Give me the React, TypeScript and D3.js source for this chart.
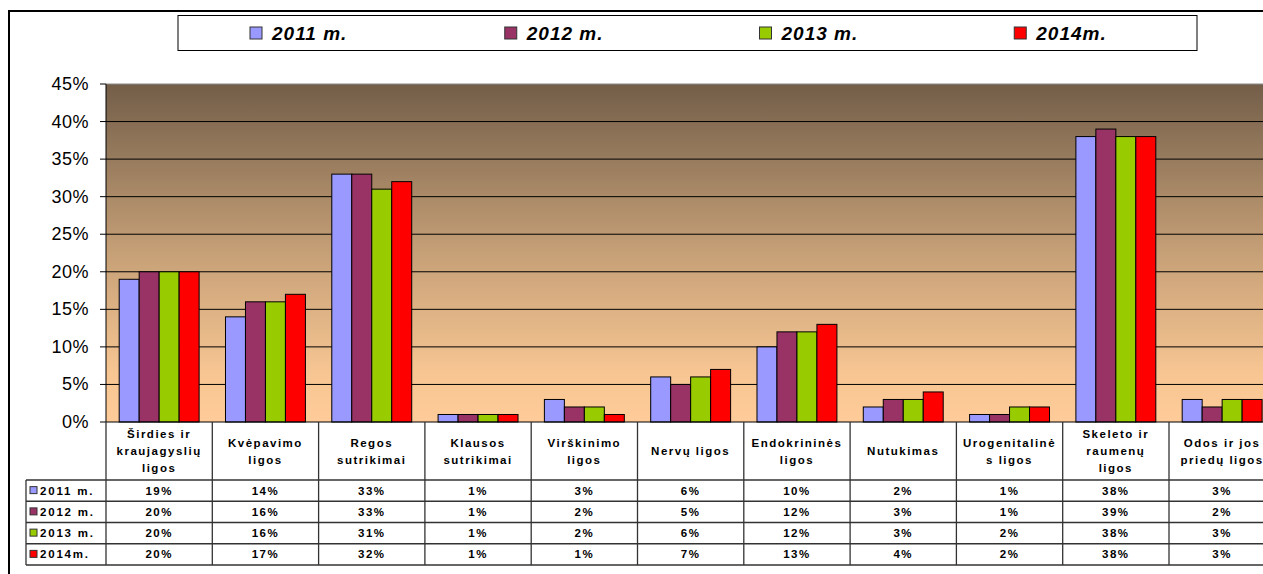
import React, { useEffect, useRef } from 'react';
import * as d3 from 'd3';

const categories = [
  ['Širdies ir', 'kraujagyslių', 'ligos'],
  ['Kvėpavimo', 'ligos'],
  ['Regos', 'sutrikimai'],
  ['Klausos', 'sutrikimai'],
  ['Virškinimo', 'ligos'],
  ['Nervų ligos'],
  ['Endokrininės', 'ligos'],
  ['Nutukimas'],
  ['Urogenitalinė', 's ligos'],
  ['Skeleto ir', 'raumenų', 'ligos'],
  ['Odos ir jos', 'priedų ligos'],
];
const series = ['2011 m.', '2012 m.', '2013 m.', '2014m.'];
const colors = ['#9999ff', '#993366', '#99cc00', '#ff0000'];
const values2011 = [19, 14, 33, 1, 3, 6, 10, 2, 1, 38, 3];
const values2012 = [20, 16, 33, 1, 2, 5, 12, 3, 1, 39, 2];
const values2013 = [20, 16, 31, 1, 2, 6, 12, 3, 2, 38, 3];
const values2014 = [20, 17, 32, 1, 1, 7, 13, 4, 2, 38, 3];
const yTicks = [0, 5, 10, 15, 20, 25, 30, 35, 40, 45];

const FONT = 'Liberation Sans, Arial, sans-serif';

const App = () => {
  const svgRef = useRef<SVGSVGElement | null>(null);

  useEffect(() => {
    const allValues = [values2011, values2012, values2013, values2014];
    const keys = categories.map(c => c.join(' '));

    const svg = d3.select(svgRef.current);
    svg.selectAll('*').remove();

    const width = 1263;
    const height = 574;
    const plotLeft = 106;
    const plotTop = 84;
    const plotBottom = 422;
    const step = 106.3;
    const plotRight = plotLeft + step * categories.length;

    const x = d3.scaleBand().domain(keys).range([plotLeft, plotRight]).padding(0);
    const xs = d3.scaleBand().domain(series).range([0, x.bandwidth()])
      .paddingInner(0).paddingOuter(0.66);
    const y = d3.scaleLinear().domain([0, 45]).range([plotBottom, plotTop]);

    // outer frame
    svg.append('rect')
      .attr('x', 9).attr('y', 11)
      .attr('width', width + 50).attr('height', height + 50)
      .attr('fill', 'white').attr('stroke', 'black').attr('stroke-width', 2);

    // gradient background
    const defs = svg.append('defs');
    const grad = defs.append('linearGradient')
      .attr('id', 'bg').attr('x1', 0).attr('y1', 0).attr('x2', 0).attr('y2', 1);
    grad.append('stop').attr('offset', '0%').attr('stop-color', '#735e49');
    grad.append('stop').attr('offset', '50%').attr('stop-color', '#c6a077');
    grad.append('stop').attr('offset', '85%').attr('stop-color', '#f6c592');
    grad.append('stop').attr('offset', '100%').attr('stop-color', '#ffcc99');

    svg.append('rect')
      .attr('x', plotLeft).attr('y', plotTop)
      .attr('width', plotRight - plotLeft).attr('height', plotBottom - plotTop)
      .attr('fill', 'url(#bg)');

    // grid lines
    svg.append('g').selectAll('line')
      .data(yTicks.filter(d => d > 0))
      .enter().append('line')
      .attr('x1', plotLeft).attr('x2', plotRight)
      .attr('y1', d => y(d)).attr('y2', d => y(d))
      .attr('stroke', d => (d === 45 ? '#8a8a8a' : 'black')).attr('stroke-width', 1);

    // bars
    allValues.forEach((vals, si) => {
      svg.append('g').selectAll('rect')
        .data(vals)
        .enter().append('rect')
        .attr('x', (d, i) => (x(keys[i]) as number) + (xs(series[si]) as number))
        .attr('y', d => y(d))
        .attr('width', xs.bandwidth())
        .attr('height', d => plotBottom - y(d))
        .attr('fill', colors[si])
        .attr('stroke', 'black').attr('stroke-width', 1);
    });

    // y axis
    svg.append('line')
      .attr('x1', plotLeft).attr('x2', plotLeft)
      .attr('y1', plotTop).attr('y2', plotBottom)
      .attr('stroke', 'black');
    svg.append('g').selectAll('line')
      .data(yTicks).enter().append('line')
      .attr('x1', plotLeft - 6).attr('x2', plotLeft)
      .attr('y1', d => y(d)).attr('y2', d => y(d))
      .attr('stroke', 'black');
    svg.append('g').selectAll('text')
      .data(yTicks).enter().append('text')
      .attr('x', 89).attr('y', d => y(d) + 6)
      .attr('text-anchor', 'end')
      .attr('font-family', FONT).attr('font-size', 18)
      .attr('letter-spacing', 0.5)
      .text(d => `${d}%`);

    // data table
    const tableLeft = 26;
    const headerBottom = 480;
    const rows = d3.scaleBand().domain(series).range([headerBottom, 565]);
    const lineColor = '#333';

    svg.append('line')
      .attr('x1', plotLeft).attr('x2', plotRight)
      .attr('y1', plotBottom).attr('y2', plotBottom)
      .attr('stroke', 'black');

    const hLines = [headerBottom, ...series.map(s => (rows(s) as number) + rows.bandwidth())];
    svg.append('g').selectAll('line')
      .data(hLines).enter().append('line')
      .attr('x1', tableLeft).attr('x2', plotRight)
      .attr('y1', d => d).attr('y2', d => d)
      .attr('stroke', lineColor).attr('stroke-width', 1.3);

    const vLines = keys.map(k => x(k) as number).concat([plotRight]);
    svg.append('g').selectAll('line')
      .data(vLines).enter().append('line')
      .attr('x1', d => d).attr('x2', d => d)
      .attr('y1', plotBottom).attr('y2', 565)
      .attr('stroke', lineColor).attr('stroke-width', 1.3);
    svg.append('line')
      .attr('x1', tableLeft).attr('x2', tableLeft)
      .attr('y1', headerBottom).attr('y2', 565)
      .attr('stroke', lineColor).attr('stroke-width', 1.3);

    // category headers
    const lineH = 17;
    categories.forEach((lines, i) => {
      const cx = (x(keys[i]) as number) + x.bandwidth() / 2;
      const top = 451 - ((lines.length - 1) * lineH) / 2;
      const t = svg.append('text')
        .attr('text-anchor', 'middle')
        .attr('font-family', FONT).attr('font-size', 11.5).attr('font-weight', 'bold')
        .attr('letter-spacing', 1.5);
      lines.forEach((ln, j) => {
        t.append('tspan').attr('x', cx).attr('y', top + j * lineH + 4).text(ln);
      });
    });

    // row headers and values
    series.forEach((s, si) => {
      const ry = (rows(s) as number) + rows.bandwidth() / 2;
      svg.append('rect')
        .attr('x', 30).attr('y', ry - 4).attr('width', 7).attr('height', 7)
        .attr('fill', colors[si]).attr('stroke', '#333').attr('stroke-width', 1);
      svg.append('text')
        .attr('x', 40).attr('y', ry + 4)
        .attr('font-family', FONT).attr('font-size', 11.5).attr('font-weight', 'bold')
        .attr('letter-spacing', 1.8)
        .text(s);
      svg.append('g').selectAll('text')
        .data(allValues[si]).enter().append('text')
        .attr('x', (d, i) => (x(keys[i]) as number) + x.bandwidth() / 2)
        .attr('y', ry + 4)
        .attr('text-anchor', 'middle')
        .attr('font-family', FONT).attr('font-size', 11.5).attr('font-weight', 'bold')
        .attr('letter-spacing', 1.5)
        .text(d => `${d}%`);
    });

    // legend
    const legLeft = 178;
    const legRight = 1197;
    svg.append('rect')
      .attr('x', legLeft).attr('y', 15.5)
      .attr('width', legRight - legLeft).attr('height', 35)
      .attr('fill', 'white').attr('stroke', 'black').attr('stroke-width', 1);
    const leg = d3.scaleBand().domain(series).range([legLeft, legRight]);
    series.forEach((s, si) => {
      const lx = (leg(s) as number) + 72;
      svg.append('rect')
        .attr('x', lx).attr('y', 27).attr('width', 12).attr('height', 12)
        .attr('fill', colors[si]).attr('stroke', '#333').attr('stroke-width', 1);
      svg.append('text')
        .attr('x', lx + 22).attr('y', 40)
        .attr('font-family', FONT).attr('font-size', 19)
        .attr('font-weight', 'bold').attr('font-style', 'italic')
        .attr('letter-spacing', 1)
        .text(s);
    });
  }, []);

  return (
    <svg
      ref={svgRef}
      width={1263}
      height={574}
      style={{ position: 'absolute', left: 0, top: 0, display: 'block', background: 'white' }}
    />
  );
};

export default App;
